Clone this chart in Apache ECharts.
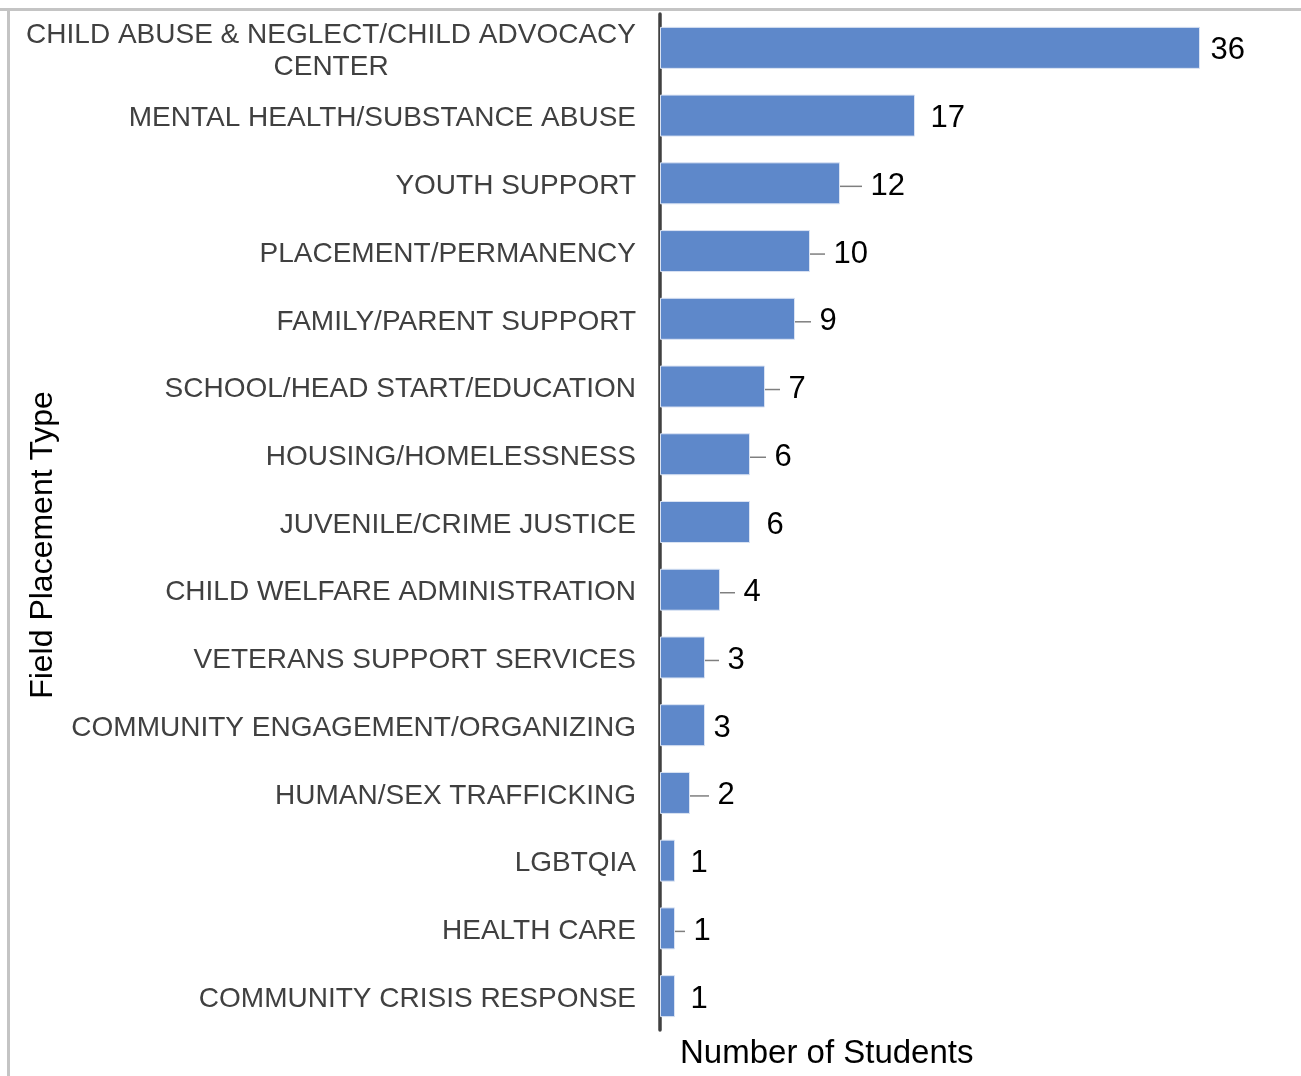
<!DOCTYPE html>
<html>
<head>
<meta charset="utf-8">
<script src="https://cdn.jsdelivr.net/npm/echarts@6/dist/echarts.min.js"></script>
<style>
  html, body { margin: 0; padding: 0; background: #fff; }
  #chart { width: 1301px; height: 1076px; }
</style>
</head>
<body>
<div id="chart"></div>
<script>
// Field placement types, top to bottom
const categories = [
  'CHILD ABUSE & NEGLECT/CHILD ADVOCACY\nCENTER',
  'MENTAL HEALTH/SUBSTANCE ABUSE',
  'YOUTH SUPPORT',
  'PLACEMENT/PERMANENCY',
  'FAMILY/PARENT SUPPORT',
  'SCHOOL/HEAD START/EDUCATION',
  'HOUSING/HOMELESSNESS',
  'JUVENILE/CRIME JUSTICE',
  'CHILD WELFARE ADMINISTRATION',
  'VETERANS SUPPORT SERVICES',
  'COMMUNITY ENGAGEMENT/ORGANIZING',
  'HUMAN/SEX TRAFFICKING',
  'LGBTQIA',
  'HEALTH CARE',
  'COMMUNITY CRISIS RESPONSE'
];

// Number of students per placement type
const students = [36, 17, 12, 10, 9, 7, 6, 6, 4, 3, 3, 2, 1, 1, 1];

// Horizontal shift of each value label (px) and whether a leader line is drawn
const labelShift = [2, 7, 22, 15, 16, 15, 16, 8, 15, 14, 0, 19, 7, 10, 7];
const labelLeader = [false, false, true, true, true, true, true, false, true, true, false, true, false, true, false];

const FONT = '"Liberation Sans", Arial, sans-serif';

const chart = echarts.init(document.getElementById('chart'), null, { renderer: 'canvas' });

const barData = students.map((v, i) => ({
  value: v,
  labelLine: { show: labelLeader[i] }
}));

chart.setOption({
  animation: false,
  backgroundColor: '#ffffff',
  grid: { left: 660, right: 41, top: 14, bottom: 46, containLabel: false },
  xAxis: {
    type: 'value',
    min: 0,
    max: 40,
    axisLine: { show: false },
    axisTick: { show: false },
    axisLabel: { show: false },
    splitLine: { show: false }
  },
  yAxis: {
    type: 'category',
    data: categories,
    inverse: true,
    axisLine: { show: true, lineStyle: { color: '#404040', width: 3.5 } },
    axisTick: { show: false },
    splitLine: { show: false },
    axisLabel: {
      margin: 24,
      fontFamily: FONT,
      fontSize: 28,
      color: '#404040',
      lineHeight: 32,
      padding: [6, 0, 0, 0],
      formatter: function (v) {
        if (v.indexOf('\n') >= 0) {
          const parts = v.split('\n');
          return '{a|' + parts[0] + '}\n{c|' + parts[1] + '}';
        }
        return v;
      },
      rich: {
        a: { fontFamily: FONT, fontSize: 28, color: '#404040', lineHeight: 32 },
        c: { fontFamily: FONT, fontSize: 28, color: '#404040', lineHeight: 32, align: 'center' }
      }
    }
  },
  series: [{
    type: 'bar',
    data: barData,
    barCategoryGap: '38%',
    itemStyle: { color: '#5e88ca', borderColor: '#dae3f3', borderWidth: 1 },
    label: {
      show: true,
      position: 'right',
      distance: 0,
      fontFamily: FONT,
      fontSize: 31,
      color: '#000000',
      // leading space keeps a small gap between the leader line and the number
      formatter: function (p) { return ' ' + p.value; }
    },
    labelLayout: function (p) {
      return { dx: labelShift[p.dataIndex], dy: 3 };
    },
    labelLine: {
      show: false,
      lineStyle: { color: '#7f7f7f', width: 1.5 }
    }
  }],
  graphic: [
    // outer frame edges
    { type: 'rect', shape: { x: 0, y: 8, width: 1301, height: 3 }, style: { fill: '#c4c4c4' }, silent: true },
    { type: 'rect', shape: { x: 7, y: 8, width: 3, height: 1068 }, style: { fill: '#c4c4c4' }, silent: true },
    // axis titles
    {
      type: 'text', x: 680, y: 1054,
      style: { text: 'Number of Students', font: '33px ' + FONT, fill: '#000', textAlign: 'left', textVerticalAlign: 'middle' }
    },
    {
      type: 'text', x: 43, y: 545, rotation: Math.PI / 2,
      style: { text: 'Field Placement Type', font: '32px ' + FONT, fill: '#000', textAlign: 'center', textVerticalAlign: 'middle' }
    }
  ]
});
</script>
</body>
</html>
